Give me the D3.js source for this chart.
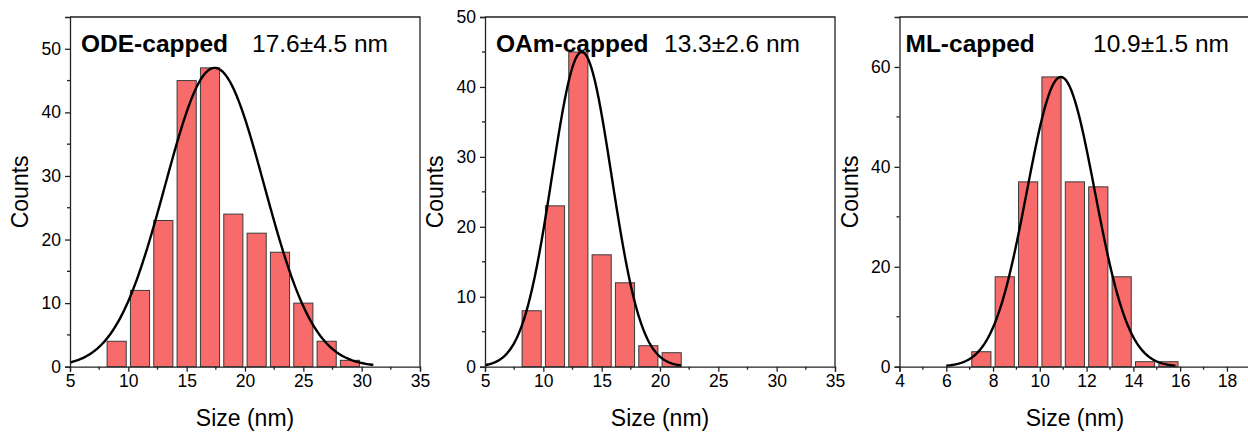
<!DOCTYPE html>
<html lang="en">
<head>
    <meta charset="UTF-8">
    <title>Size distributions</title>
    <style>
        body {
            margin: 0;
            background: #fff;
        }
        svg text {
            font-family: "Liberation Sans", Arial, sans-serif;
            fill: #000;
        }
    </style>
</head>
<body>
    <script src="https://d3js.org/d3.v7.min.js"></script>
    <script>
        // histogram data per panel (bin centers, counts) and gaussian fit
        const odeCenters = [9, 11, 13, 15, 17, 19, 21, 23, 25, 27, 29]
        const odeCounts = [4, 12, 23, 45, 47, 24, 21, 18, 10, 4, 1]
        const odeFit = [17.4, 4.25, 47]       // mean, sd, peak
        const odeFitRange = [5, 31]

        const oamCenters = [9, 11, 13, 15, 17, 19, 21]
        const oamCounts = [8, 23, 45, 16, 12, 3, 2]
        const oamFit = [13.3, 2.55, 45]
        const oamFitRange = [5, 21.8]

        const mlCenters = [7.5, 8.5, 9.5, 10.5, 11.5, 12.5, 13.5, 14.5, 15.5]
        const mlCounts = [3, 18, 37, 58, 37, 36, 18, 1, 1]
        const mlFit = [10.9, 1.45, 58]
        const mlFitRange = [6, 15.8]

        const odeXTicks = [5, 10, 15, 20, 25, 30, 35]
        const odeYTicks = [0, 10, 20, 30, 40, 50]
        const oamXTicks = [5, 10, 15, 20, 25, 30, 35]
        const oamYTicks = [0, 10, 20, 30, 40, 50]
        const mlXTicks = [4, 6, 8, 10, 12, 14, 16, 18]
        const mlYTicks = [0, 20, 40, 60]

        const panels = [
            {
                name: 'ODE-capped', stat: '17.6\u00b14.5 nm',
                centers: odeCenters, counts: odeCounts, fit: odeFit, fitRange: odeFitRange,
                xTicks: odeXTicks, yTicks: odeYTicks,
                xDomain: [5, 35], yDomain: [0, 55], binWidth: 2, xMinor: 2.5, yMinor: 5,
                left: 70, right: 420, nameDx: 11, statX: 252
            },
            {
                name: 'OAm-capped', stat: '13.3\u00b12.6 nm',
                centers: oamCenters, counts: oamCounts, fit: oamFit, fitRange: oamFitRange,
                xTicks: oamXTicks, yTicks: oamYTicks,
                xDomain: [5, 35], yDomain: [0, 50], binWidth: 2, xMinor: 2.5, yMinor: 5,
                left: 485, right: 835, nameDx: 11, statX: 664
            },
            {
                name: 'ML-capped', stat: '10.9\u00b11.5 nm',
                centers: mlCenters, counts: mlCounts, fit: mlFit, fitRange: mlFitRange,
                xTicks: mlXTicks, yTicks: mlYTicks,
                xDomain: [4, 19], yDomain: [0, 70], binWidth: 1, xMinor: 1, yMinor: 10,
                left: 899.5, right: 1250.3, nameDx: 6, statX: 1093
            }
        ]

        const width = 1248
        const height = 433
        const plotTop = 17
        const plotBottom = 366.7

        const svg = d3.select('body')
            .append('svg')
            .attr('width', width)
            .attr('height', height)

        panels.forEach(drawPanel)

        function drawPanel(p) {
            const x = d3.scaleLinear().domain(p.xDomain).range([p.left, p.right])
            const y = d3.scaleLinear().domain(p.yDomain).range([plotBottom, plotTop])
            const g = svg.append('g')

            // bars
            const bw = p.binWidth * 0.82
            g.append('g')
                .selectAll('rect')
                .data(p.centers.map((c, i) => ({ c, v: p.counts[i] })))
                .join('rect')
                .attr('x', d => x(d.c - bw / 2))
                .attr('width', d => x(d.c + bw / 2) - x(d.c - bw / 2))
                .attr('y', d => y(d.v))
                .attr('height', d => y(0) - y(d.v))
                .attr('fill', '#f86b6b')
                .attr('stroke', '#3a3a3a')
                .attr('stroke-width', 1)

            // gaussian fit
            const [mu, sd, amp] = p.fit
            const xs = d3.range(p.fitRange[0], p.fitRange[1] + 1e-9, (p.fitRange[1] - p.fitRange[0]) / 200)
            const line = d3.line()
                .x(d => x(d))
                .y(d => y(amp * Math.exp(-((d - mu) ** 2) / (2 * sd * sd))))
            g.append('path')
                .datum(xs)
                .attr('fill', 'none')
                .attr('stroke', '#000')
                .attr('stroke-width', 2.4)
                .attr('stroke-linejoin', 'round')
                .attr('d', line)

            // frame (top & right)
            g.append('path')
                .attr('d', `M${p.left},${plotTop}H${p.right}V${plotBottom}`)
                .attr('fill', 'none')
                .attr('stroke', '#222')
                .attr('stroke-width', 1.3)

            // x axis
            const xAxis = d3.axisBottom(x)
                .tickValues(p.xTicks)
                .tickSize(5)
                .tickPadding(3)
                .tickFormat(d3.format('d'))
            const xMinorTicks = d3.range(p.xDomain[0], p.xDomain[1] + 1e-9, p.xMinor)
                .filter(v => !p.xTicks.includes(v))
            const gx = g.append('g')
                .attr('transform', `translate(0,${plotBottom})`)
                .call(xAxis)
            gx.append('g').selectAll('line')
                .data(xMinorTicks)
                .join('line')
                .attr('x1', d => x(d))
                .attr('x2', d => x(d))
                .attr('y2', 3)
                .attr('stroke', '#222')
                .attr('stroke-width', 1.3)

            // y axis
            const yAxis = d3.axisLeft(y)
                .tickValues(p.yTicks)
                .tickSize(5)
                .tickPadding(4)
                .tickFormat(d3.format('d'))
            const yMinorTicks = d3.range(p.yDomain[0], p.yDomain[1] - 1e-9, p.yMinor)
                .filter(v => !p.yTicks.includes(v))
            const gy = g.append('g')
                .attr('transform', `translate(${p.left},0)`)
                .call(yAxis)
            gy.append('g').selectAll('line')
                .data(yMinorTicks)
                .join('line')
                .attr('y1', d => y(d))
                .attr('y2', d => y(d))
                .attr('x2', -3)
                .attr('stroke', '#222')
                .attr('stroke-width', 1.3)

            ;[gx, gy].forEach(a => {
                a.select('.domain').attr('stroke', '#222').attr('stroke-width', 1.3)
                a.selectAll('.tick line').attr('stroke', '#222').attr('stroke-width', 1.3)
                a.selectAll('.tick text')
                    .style('font-family', '"Liberation Sans", Arial, sans-serif')
                    .style('font-size', '17.5px')
                    .attr('fill', '#000')
            })

            // axis titles
            g.append('text')
                .attr('x', (p.left + p.right) / 2)
                .attr('y', 426)
                .attr('text-anchor', 'middle')
                .style('font-size', '23px')
                .text('Size (nm)')
            g.append('text')
                .attr('transform', `translate(${p.left - 42},${(plotTop + plotBottom) / 2}) rotate(-90)`)
                .attr('text-anchor', 'middle')
                .style('font-size', '23px')
                .text('Counts')

            // title
            g.append('text')
                .attr('x', p.left + p.nameDx)
                .attr('y', 51.5)
                .style('font-size', '24.5px')
                .style('font-weight', 'bold')
                .text(p.name)
            g.append('text')
                .attr('x', p.statX)
                .attr('y', 51.5)
                .style('font-size', '24.5px')
                .text(p.stat)
        }
    </script>
</body>
</html>
